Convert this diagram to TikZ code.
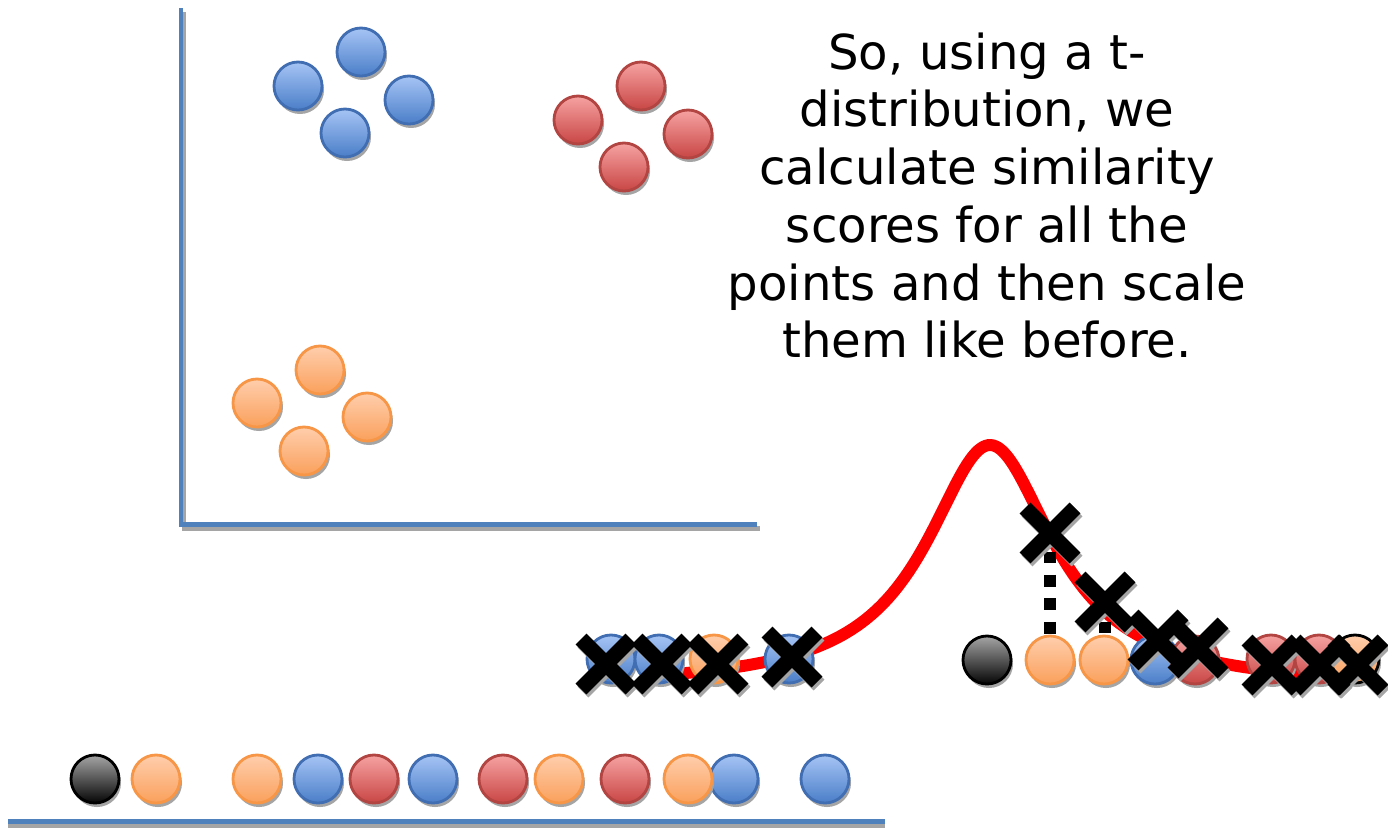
\documentclass[tikz,border=0pt]{standalone}
\usepackage{fontspec}
\newfontfamily\dejavu{DejaVu Sans}
\usetikzlibrary{shadows}
\definecolor{blueT}{RGB}{166,196,245}
\definecolor{blueD}{RGB}{74,126,200}
\definecolor{blueB}{RGB}{65,110,178}
\definecolor{redT}{RGB}{246,162,162}
\definecolor{redD}{RGB}{200,70,68}
\definecolor{redB}{RGB}{178,68,66}
\definecolor{orT}{RGB}{255,206,172}
\definecolor{orD}{RGB}{250,160,92}
\definecolor{orB}{RGB}{247,150,70}
\definecolor{bkT}{RGB}{165,165,165}
\definecolor{bkD}{RGB}{5,5,5}
\definecolor{axisblue}{RGB}{79,129,189}
\definecolor{shadowgray}{RGB}{165,165,165}
\begin{document}
\begin{tikzpicture}[x=0.01cm,y=-0.01cm,
  ball/.style={circle, minimum size=0.48cm, inner sep=0pt, outer sep=0pt, line width=0.8pt,
    drop shadow={shadow xshift=0.02cm, shadow yshift=-0.04cm, fill=shadowgray, opacity=1}},
  bblue/.style={ball, draw=blueB, top color=blueT, bottom color=blueD},
  bred/.style={ball, draw=redB, top color=redT, bottom color=redD},
  borange/.style={ball, draw=orB, top color=orT, bottom color=orD},
  bblack/.style={ball, draw=black, top color=bkT, bottom color=bkD},
  axisline/.style={line width=1.42pt, draw=axisblue},
  axisshadow/.style={line width=1.42pt, draw=shadowgray},
  tcurve/.style={draw=red, line width=3.4pt},
  xarm/.style={line width=4.4pt, draw=black},
  xshadow/.style={line width=4.4pt, draw=shadowgray},
  dots/.style={line width=3.41pt, draw=black, dash pattern=on 3.41pt off 3.27pt},
  txt/.style={font=\dejavu\fontsize{13.7pt}{16.4pt}\selectfont, align=center, inner sep=0pt}
]
\useasboundingbox (0,0) rectangle (1388,827);

% axes with shadows
\draw[axisshadow] (184,12) -- (184,528) -- (760,528);
\draw[axisline] (181,8) -- (181,524) -- (757,524);
\draw[axisshadow] (8,825) -- (885,825);
\draw[axisline] (8,821.5) -- (885,821.5);

% clusters
\node[bblue] (b1) at (361,52) {};
\node[bblue] (b2) at (298,86) {};
\node[bblue] (b3) at (409,100) {};
\node[bblue] (b4) at (345,133) {};
\node[bred] (r1) at (641,86) {};
\node[bred] (r2) at (578,120) {};
\node[bred] (r3) at (688,134) {};
\node[bred] (r4) at (624,167) {};
\node[borange] (o1) at (320,370) {};
\node[borange] (o2) at (257,403) {};
\node[borange] (o3) at (367,417) {};
\node[borange] (o4) at (304,451) {};

% bottom row
\node[bblack] (n1) at (95,779) {};
\node[borange] (n2) at (156,779) {};
\node[borange] (n3) at (257,779) {};
\node[bblue] (n4) at (318,779) {};
\node[bred] (n5) at (374,779) {};
\node[bblue] (n6) at (433,779) {};
\node[bred] (n7) at (503,779) {};
\node[borange] (n8) at (559,779) {};
\node[bred] (n9) at (625,779) {};
\node[bblue] (n11) at (734,779) {};
\node[borange] (n10) at (688,779) {};
\node[bblue] (n12) at (825,779) {};

% t-distribution curve
\draw[tcurve] plot[domain=670:1372, samples=140, smooth] (\x, {688-243/(1+((\x-990)/78)^2)});

% dashed drop lines
\draw[dots] (1050,528) -- (1050,636);
\draw[dots] (1105,598) -- (1105,634);

% middle row, left group
\node[bblue] (m1) at (611,659) {};
\node[bblue] (m2) at (659,659) {};
\node[borange] (m3) at (714,659) {};
\node[bblue] (m4) at (789,659) {};

% middle row, right group
\node[bblack] (k1) at (987,660) {};
\node[borange] (k2) at (1050,660) {};
\node[borange] (k3) at (1104,660) {};
\node[bblue] (k4) at (1155,660) {};
\node[bred] (k5) at (1195,660) {};
\node[bred] (k6) at (1271,659) {};
\node[bred] (k7) at (1319,659) {};
\node[ball, draw=black, top color=orT, bottom color=orD] (k8) at (1355,659) {};

% crosses
\foreach \cx/\cy in {606/664, 662/664, 718/664, 792/657, 1050/533, 1105/602, 1158/640, 1198/648, 1272/665, 1320/665, 1358/665}{
  \draw[xshadow] (\cx-23,\cy-22) -- (\cx+27,\cy+28) (\cx-23,\cy+28) -- (\cx+27,\cy-22);
}
\foreach \cx/\cy in {606/664, 662/664, 718/664, 792/657, 1050/533, 1105/602, 1158/640, 1198/648, 1272/665, 1320/665, 1358/665}{
  \draw[xarm] (\cx-25,\cy-25) -- (\cx+25,\cy+25) (\cx-25,\cy+25) -- (\cx+25,\cy-25);
}

% text
\node[txt, anchor=north] (caption) at (987,32) {So, using a t-\\distribution, we\\calculate similarity\\scores for all the\\points and then scale\\them like before.};
\end{tikzpicture}
\end{document}
